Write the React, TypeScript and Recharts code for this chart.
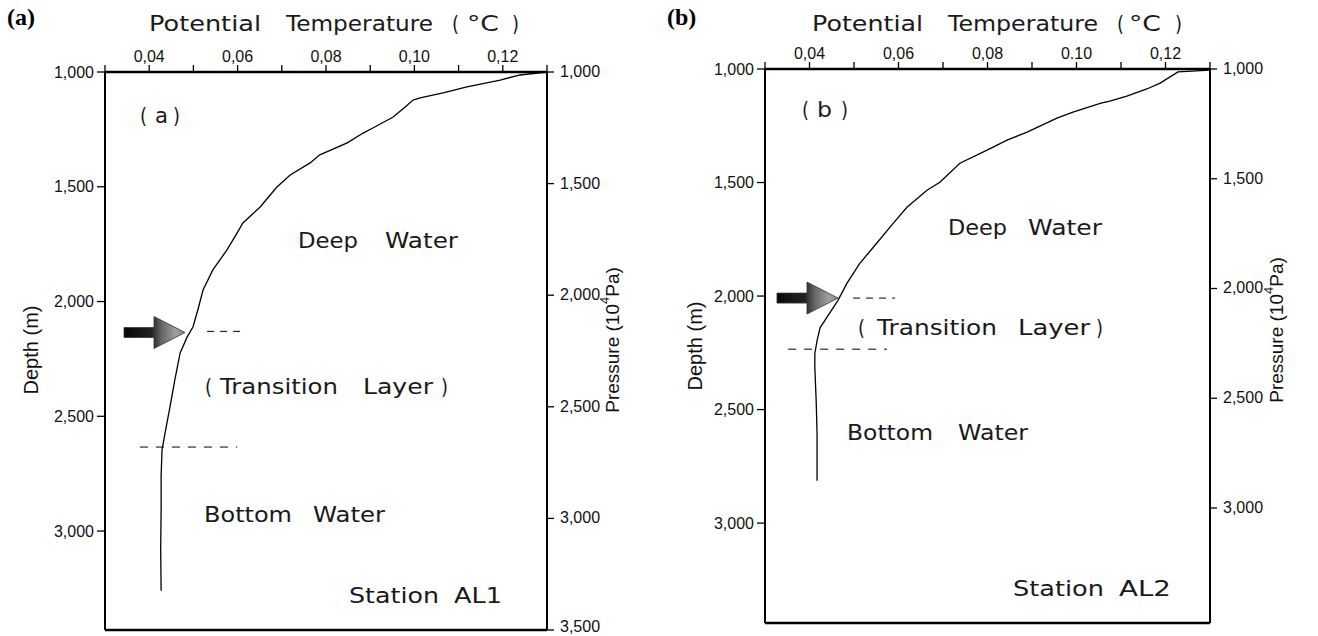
import React from 'react'
import { ComposedChart, Line, XAxis, YAxis, ReferenceLine, ReferenceDot } from 'recharts'

// Station AL1 profile, potential temperature (°C) vs depth (m)
const tempA = [0.13, 0.1239, 0.1194, 0.1119, 0.1065, 0.1013, 0.0997, 0.0979, 0.0952, 0.0906, 0.0884, 0.0848, 0.0786, 0.0764, 0.0719, 0.0689, 0.0651, 0.0612, 0.0599, 0.0576, 0.0544, 0.0522, 0.051, 0.0499, 0.0486, 0.047, 0.0458, 0.0447, 0.0436, 0.0429, 0.0427, 0.0427, 0.0426, 0.0427]
const depthA = [1000, 1013, 1035, 1065, 1091, 1113, 1122, 1152, 1196, 1244, 1266, 1309, 1361, 1396, 1449, 1501, 1588, 1658, 1701, 1775, 1862, 1949, 2037, 2111, 2154, 2224, 2341, 2459, 2572, 2646, 2760, 2900, 3080, 3260]

// Station AL2 profile
const tempB = [0.13, 0.1228, 0.1188, 0.1158, 0.1113, 0.1075, 0.1055, 0.0992, 0.0956, 0.0889, 0.0844, 0.0799, 0.0738, 0.0693, 0.0664, 0.0619, 0.0588, 0.0543, 0.0513, 0.0484, 0.0464, 0.0439, 0.0424, 0.0417, 0.0412, 0.0412, 0.0415, 0.0417, 0.0417]
const depthB = [1005, 1013, 1062, 1088, 1119, 1141, 1150, 1190, 1216, 1278, 1313, 1357, 1415, 1499, 1534, 1609, 1680, 1786, 1856, 1944, 2019, 2094, 2139, 2196, 2253, 2315, 2461, 2606, 2814]

const tempTicks = [0.03, 0.04, 0.05, 0.06, 0.07, 0.08, 0.09, 0.1, 0.11, 0.12, 0.13]
const tempLabelsA = ['', '0,04', '', '0,06', '', '0,08', '', '0,10', '', '0,12', '']
const tempLabelsB = ['', '0,04', '', '0,06', '', '0,08', '', '0.10', '', '0,12', '']
const depthTicks = [1000, 1500, 2000, 2500, 3000]
const pressTicksA = [1000, 1500, 2000, 2500, 3000, 3500]
const pressTicksB = [1000, 1500, 2000, 2500, 3000]

// layer boundaries: [depth, temp start, temp end]
const layersA = [[2130, 0.0531, 0.0617], [2634, 0.0379, 0.0599]]
const layersB = [[2009, 0.0498, 0.0592], [2234, 0.0352, 0.0574]]
const arrowA = { t: 0.0481, d: 2135 }
const arrowB = { t: 0.0464, d: 2009 }

const FONT = '"Liberation Sans", Arial, sans-serif'
const WIDE = '"DejaVu Sans", sans-serif'
const fmt = (v: number) => v.toLocaleString('en-US')

function Arrow({ cx, cy, id }: { cx: number; cy: number; id: string }) {
  const len = 61, head = 31, hh = 16, sh = 5
  const pts = [
    [cx - len, cy - sh], [cx - head, cy - sh], [cx - head, cy - hh], [cx, cy],
    [cx - head, cy + hh], [cx - head, cy + sh], [cx - len, cy + sh],
  ].map((p) => p.join(',')).join(' ')
  return (
    <g>
      <defs>
        <linearGradient id={id} x1="0" x2="1" y1="0" y2="0">
          <stop offset="0" stopColor="#080808" />
          <stop offset="0.45" stopColor="#222" />
          <stop offset="0.62" stopColor="#666" />
          <stop offset="0.85" stopColor="#a0a0a0" />
          <stop offset="1" stopColor="#888" />
        </linearGradient>
      </defs>
      <polygon points={pts} fill={`url(#${id})`} stroke="#333" strokeWidth={0.8} />
    </g>
  )
}

type PanelProps = {
  temps: number[]
  depths: number[]
  labels: string[]
  width: number
  margin: { top: number; right: number; bottom: number; left: number }
  depthMax: number
  pressMax: number
  pressTicks: number[]
  layers: number[][]
  arrow: { t: number; d: number }
  gid: string
}

function RightTick({ x, y, payload }: any) {
  return (
    <text x={x} y={Math.min(y, 627)} dy={5} fontSize={16} fontFamily={FONT} fill="#111">
      {fmt(payload.value)}
    </text>
  )
}

function Panel(p: PanelProps) {
  const data = p.temps.map((t, i) => ({ t, d: p.depths[i] }))
  const tickStyle = { fill: '#111', fontSize: 16, fontFamily: FONT }
  const axisLine = { stroke: '#000', strokeWidth: 2 }
  const tickLine = { stroke: '#000', strokeWidth: 1.3 }
  return (
    <ComposedChart width={p.width} height={636} data={data} margin={p.margin}>
      <XAxis
        xAxisId="top" orientation="top" type="number" dataKey="t" domain={[0.03, 0.13]}
        allowDataOverflow ticks={tempTicks} interval={0} height={40} tickSize={7} tickMargin={3}
        tickFormatter={(v: number, i: number) => p.labels[i]}
        axisLine={{ stroke: '#000', strokeWidth: 2.5 }} tickLine={tickLine} tick={tickStyle}
      />
      <XAxis
        xAxisId="bot" orientation="bottom" type="number" dataKey="t" domain={[0.03, 0.13]}
        allowDataOverflow ticks={tempTicks} interval={0} height={6} tickSize={6}
        tick={false} axisLine={{ stroke: '#000', strokeWidth: 2.5 }} tickLine={tickLine}
      />
      <YAxis
        yAxisId="depth" orientation="left" type="number" reversed domain={[1000, p.depthMax]}
        allowDataOverflow ticks={depthTicks} interval={0} width={70} tickSize={8} tickMargin={3}
        tickFormatter={fmt} axisLine={axisLine} tickLine={tickLine} tick={tickStyle}
      />
      <YAxis
        yAxisId="press" orientation="right" type="number" reversed domain={[1000, p.pressMax]}
        allowDataOverflow ticks={p.pressTicks} interval={0} width={70} tickSize={7} tickMargin={6}
        axisLine={axisLine} tickLine={tickLine} tick={<RightTick />}
      />
      {p.layers.map(([d, t0, t1], i) => (
        <ReferenceLine
          key={i} xAxisId="top" yAxisId="depth" ifOverflow="visible"
          segment={[{ x: t0, y: d }, { x: t1, y: d }]}
          stroke="#000" strokeWidth={1} strokeDasharray={i === 0 ? '7 6' : '8 8'}
        />
      ))}
      <Line
        xAxisId="top" yAxisId="depth" type="linear" dataKey="d" stroke="#000"
        strokeWidth={1.3} dot={false} isAnimationActive={false}
      />
      <ReferenceDot
        xAxisId="top" yAxisId="depth" x={p.arrow.t} y={p.arrow.d} ifOverflow="visible"
        shape={(s: any) => <Arrow cx={s.cx} cy={s.cy} id={p.gid} />}
      />
    </ComposedChart>
  )
}

// words laid out one by one: [text, left x, width]
function Words({ y, size = 22, words }: { y: number; size?: number; words: [string, number, number][] }) {
  return (
    <g fontSize={size} fontFamily={WIDE} fill="#1a1a1a">
      {words.map(([s, x, w], i) => (
        <text key={i} x={x} y={y} textLength={w} lengthAdjust="spacingAndGlyphs">{s}</text>
      ))}
    </g>
  )
}

function VLabel({ cx, cy, size = 20, children }: { cx: number; cy: number; size?: number; children: React.ReactNode }) {
  return (
    <text
      x={cx} y={cy} transform={`rotate(-90, ${cx}, ${cy})`} textAnchor="middle"
      dominantBaseline="middle" fontSize={size} fontFamily={FONT} fill="#111"
    >
      {children}
    </text>
  )
}

export default function App() {
  const serif = '"Liberation Serif", "Times New Roman", serif'
  return (
    <div style={{ position: 'absolute', left: 0, top: 0, width: 1318, height: 636, background: '#fff' }}>
      <div style={{ position: 'absolute', left: 0, top: 0 }}>
        <Panel
          temps={tempA} depths={depthA} labels={tempLabelsA} width={660}
          margin={{ top: 32, right: 43, bottom: 0, left: 35 }}
          depthMax={3431} pressMax={3500} pressTicks={pressTicksA}
          layers={layersA} arrow={arrowA} gid="arrowGradA"
        />
      </div>
      <div style={{ position: 'absolute', left: 660, top: 0 }}>
        <Panel
          temps={tempB} depths={depthB} labels={tempLabelsB} width={658}
          margin={{ top: 29, right: 38, bottom: 7, left: 35 }}
          depthMax={3440} pressMax={3524} pressTicks={pressTicksB}
          layers={layersB} arrow={arrowB} gid="arrowGradB"
        />
      </div>
      <svg width={1318} height={636} style={{ position: 'absolute', left: 0, top: 0, pointerEvents: 'none' }}>
        <text x={7} y={25} fontSize={24} fontWeight="bold" fontFamily={serif}>(a)</text>
        <text x={667} y={25} fontSize={24} fontWeight="bold" fontFamily={serif}>(b)</text>

        <Words y={31} size={21} words={[['Potential', 149, 112], ['Temperature', 286, 147], ['(', 452, 7], ['°C', 467, 32], [')', 512, 7]]} />
        <Words y={31} size={21} words={[['Potential', 812, 111], ['Temperature', 948, 150], ['(', 1117, 7], ['°C', 1129, 32], [')', 1175, 7]]} />

        <VLabel cx={33} cy={350}>Depth (m)</VLabel>
        <VLabel cx={697} cy={346}>Depth (m)</VLabel>
        <VLabel cx={614} cy={340} size={19}>
          Pressure (10<tspan dy={-8} fontSize={13}>4</tspan><tspan dy={8}>Pa)</tspan>
        </VLabel>
        <VLabel cx={1278} cy={330} size={19}>
          Pressure (10<tspan dy={-8} fontSize={13}>4</tspan><tspan dy={8}>Pa)</tspan>
        </VLabel>

        <Words y={123} words={[['(', 140, 7], ['a', 155, 13], [')', 173, 7]]} />
        <Words y={248} words={[['Deep', 298, 60], ['Water', 385, 73]]} />
        <Words y={394} words={[['(', 205, 7], ['Transition', 220, 118], ['Layer', 363, 70], [')', 441, 7]]} />
        <Words y={522} words={[['Bottom', 204, 88], ['Water', 313, 72]]} />
        <Words y={603} words={[['Station', 349, 90], ['AL1', 454, 48]]} />

        <Words y={117} words={[['(', 802, 7], ['b', 817, 15], [')', 841, 7]]} />
        <Words y={235} words={[['Deep', 948, 59], ['Water', 1028, 74]]} />
        <Words y={335} words={[['(', 858, 7], ['Transition', 877, 120], ['Layer', 1018, 72], [')', 1096, 7]]} />
        <Words y={440} words={[['Bottom', 847, 86], ['Water', 958, 70]]} />
        <Words y={596} words={[['Station', 1013, 91], ['AL2', 1119, 52]]} />
      </svg>
    </div>
  )
}
